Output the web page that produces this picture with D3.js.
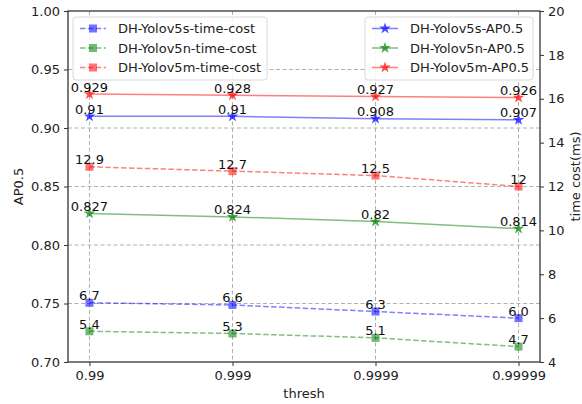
<!DOCTYPE html>
<html>
<head>
<meta charset="utf-8">
<script src="https://cdn.jsdelivr.net/npm/d3@7"></script>
<style>
  body { margin: 0; background: #fff; }
  text { font-family: 'DejaVu Sans', sans-serif; }
</style>
</head>
<body>
<div id="chart"></div>
<script>
const threshLabels = ['0.99', '0.999', '0.9999', '0.99999']

// AP0.5 (left axis)
const apS = [0.91, 0.91, 0.908, 0.907]
const apN = [0.827, 0.824, 0.82, 0.814]
const apM = [0.929, 0.928, 0.927, 0.926]

// time cost in ms (right axis), kept as printed
const timeS = ['6.7', '6.6', '6.3', '6.0']
const timeN = ['5.4', '5.3', '5.1', '4.7']
const timeM = ['12.9', '12.7', '12.5', '12']

const leftTicks = [0.70, 0.75, 0.80, 0.85, 0.90, 0.95, 1.00]
const rightTicks = [4, 6, 8, 10, 12, 14, 16, 18, 20]

const margin = { top: 11, left: 68, right: 42, bottom: 42 }
const width = 582 - margin.left - margin.right
const height = 404 - margin.top - margin.bottom

const svg = d3
  .select('#chart')
  .append('svg')
  .attr('width', width + margin.left + margin.right)
  .attr('height', height + margin.top + margin.bottom)
  .append('g')
  .attr('transform', 'translate(' + margin.left + ',' + margin.top + ')')

const xPositionScale = d3
  .scalePoint()
  .domain(threshLabels)
  .range([0, width])
  .padding(0.15)

const yLeftScale = d3.scaleLinear().domain([0.70, 1.00]).range([height, 0])
const yRightScale = d3.scaleLinear().domain([4, 20]).range([height, 0])

const fontSize = 13

// grid
svg.append('g')
  .selectAll('line')
  .data(threshLabels)
  .enter().append('line')
  .attr('x1', d => xPositionScale(d))
  .attr('x2', d => xPositionScale(d))
  .attr('y1', 0)
  .attr('y2', height)
  .attr('stroke', '#b0b0b0')
  .attr('stroke-width', 1)
  .attr('stroke-dasharray', '4,2.5')

svg.append('g')
  .selectAll('line')
  .data(leftTicks.slice(1, -1))
  .enter().append('line')
  .attr('x1', 0)
  .attr('x2', width)
  .attr('y1', d => yLeftScale(d))
  .attr('y2', d => yLeftScale(d))
  .attr('stroke', '#b0b0b0')
  .attr('stroke-width', 1)
  .attr('stroke-dasharray', '4,2.5')

const series = [
  { name: 'DH-Yolov5s-time-cost', values: timeS, color: '#0000ff', kind: 'time' },
  { name: 'DH-Yolov5n-time-cost', values: timeN, color: '#008000', kind: 'time' },
  { name: 'DH-Yolov5m-time-cost', values: timeM, color: '#ff0000', kind: 'time' },
  { name: 'DH-Yolov5s-AP0.5', values: apS, color: '#0000ff', kind: 'ap' },
  { name: 'DH-Yolov5n-AP0.5', values: apN, color: '#008000', kind: 'ap' },
  { name: 'DH-Yolov5m-AP0.5', values: apM, color: '#ff0000', kind: 'ap' }
]

const star = d3.symbol().type(d3.symbolStar).size(42)

series.forEach(s => {
  const yScale = s.kind === 'time' ? yRightScale : yLeftScale
  const pts = s.values.map((v, i) => ({ x: threshLabels[i], y: +v, label: String(v) }))
  const line = d3.line()
    .x(d => xPositionScale(d.x))
    .y(d => yScale(d.y))

  svg.append('path')
    .datum(pts)
    .attr('d', line)
    .attr('fill', 'none')
    .attr('stroke', s.color)
    .attr('stroke-opacity', 0.5)
    .attr('stroke-width', 1.5)
    .attr('stroke-dasharray', s.kind === 'time' ? '5.5,2.4' : null)

  if (s.kind === 'time') {
    svg.append('g')
      .selectAll('rect')
      .data(pts)
      .enter().append('rect')
      .attr('x', d => xPositionScale(d.x) - 4)
      .attr('y', d => yScale(d.y) - 4)
      .attr('width', 8)
      .attr('height', 8)
      .attr('fill', s.color)
      .attr('fill-opacity', 0.55)
  } else {
    svg.append('g')
      .selectAll('path')
      .data(pts)
      .enter().append('path')
      .attr('d', star)
      .attr('transform', d => 'translate(' + xPositionScale(d.x) + ',' + yScale(d.y) + ')')
      .attr('fill', s.color)
      .attr('fill-opacity', 0.7)
  }

  svg.append('g')
    .selectAll('text')
    .data(pts)
    .enter().append('text')
    .attr('x', d => xPositionScale(d.x))
    .attr('y', d => yScale(d.y) - 2.5)
    .attr('text-anchor', 'middle')
    .attr('font-size', fontSize)
    .attr('fill', '#111')
    .text(d => d.label)
})

// frame
svg.append('rect')
  .attr('width', width)
  .attr('height', height)
  .attr('fill', 'none')
  .attr('stroke', '#333')
  .attr('stroke-width', 1.3)

// axes
const xAxis = d3.axisBottom(xPositionScale).tickSize(4).tickPadding(5)
svg.append('g')
  .attr('class', 'axis x-axis')
  .attr('transform', 'translate(0,' + height + ')')
  .call(xAxis)

const yAxis = d3.axisLeft(yLeftScale).tickValues(leftTicks).tickFormat(d3.format('.2f')).tickSize(4).tickPadding(4)
svg.append('g')
  .attr('class', 'axis y-axis')
  .call(yAxis)

const yAxisRight = d3.axisRight(yRightScale).tickValues(rightTicks).tickSize(4).tickPadding(4)
svg.append('g')
  .attr('class', 'axis y-axis-right')
  .attr('transform', 'translate(' + width + ',0)')
  .call(yAxisRight)

svg.selectAll('.axis .domain').remove()
svg.selectAll('.axis text')
  .attr('font-size', fontSize)
  .attr('font-family', 'DejaVu Sans')
  .attr('fill', '#222')
svg.selectAll('.axis line').attr('stroke', '#333')

// axis labels
svg.append('text')
  .attr('transform', 'rotate(-90)')
  .attr('x', -height / 2)
  .attr('y', -margin.left + 23)
  .attr('text-anchor', 'middle')
  .attr('font-size', fontSize)
  .attr('fill', '#222')
  .text('AP0.5')

svg.append('text')
  .attr('transform', 'rotate(-90)')
  .attr('x', -height / 2 + 10)
  .attr('y', width + 40)
  .attr('text-anchor', 'middle')
  .attr('font-size', fontSize)
  .attr('fill', '#222')
  .text('time cost(ms)')

svg.append('text')
  .attr('x', width / 2)
  .attr('y', height + 36)
  .attr('text-anchor', 'middle')
  .attr('font-size', fontSize)
  .attr('fill', '#222')
  .text('thresh')

// legends
function legend (items, x0, boxW) {
  const g = svg.append('g').attr('transform', 'translate(' + x0 + ',6)')
  g.append('rect')
    .attr('width', boxW)
    .attr('height', 63)
    .attr('rx', 3)
    .attr('fill', '#fff')
    .attr('fill-opacity', 0.85)
    .attr('stroke', '#d8d8d8')
  items.forEach((s, i) => {
    const y = 11.5 + i * 19.5
    g.append('line')
      .attr('x1', 7)
      .attr('x2', 33)
      .attr('y1', y)
      .attr('y2', y)
      .attr('stroke', s.color)
      .attr('stroke-opacity', 0.5)
      .attr('stroke-width', 1.5)
      .attr('stroke-dasharray', s.kind === 'time' ? '5.5,2.4' : null)
    if (s.kind === 'time') {
      g.append('rect')
        .attr('x', 16)
        .attr('y', y - 4)
        .attr('width', 8)
        .attr('height', 8)
        .attr('fill', s.color)
        .attr('fill-opacity', 0.55)
    } else {
      g.append('path')
        .attr('d', star)
        .attr('transform', 'translate(20,' + y + ')')
        .attr('fill', s.color)
        .attr('fill-opacity', 0.7)
    }
    g.append('text')
      .attr('x', 45)
      .attr('y', y + 4.5)
      .attr('font-size', fontSize)
      .attr('fill', '#222')
      .text(s.name)
  })
}

legend(series.slice(0, 3), 5, 194)
legend(series.slice(3), 297, 168)
</script>
</body>
</html>
